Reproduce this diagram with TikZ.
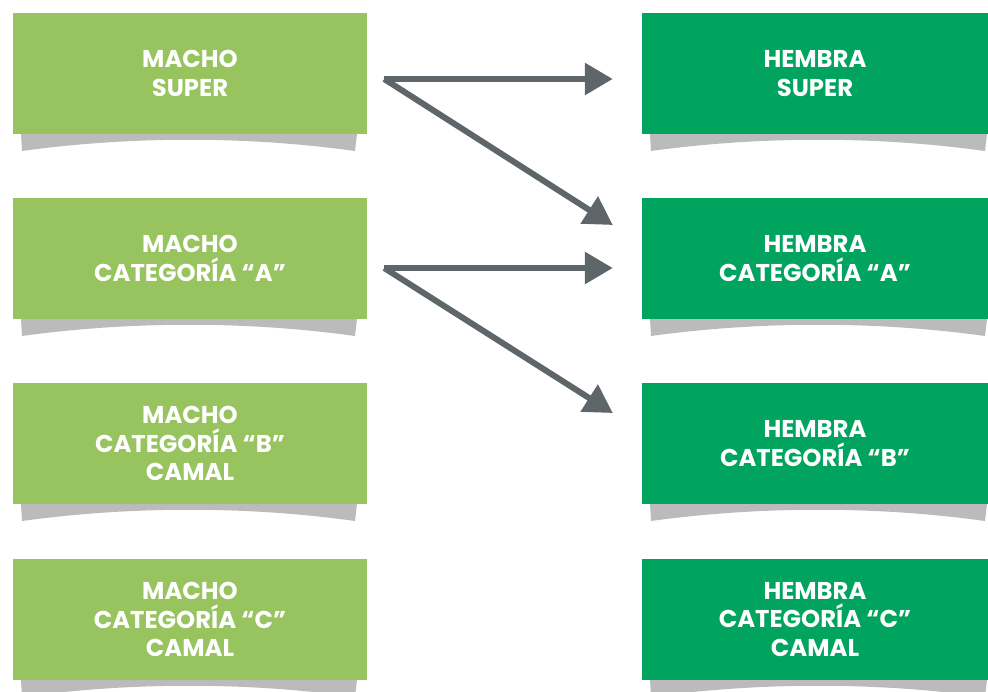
\documentclass[tikz,border=0pt]{standalone}
\usepackage{fontspec}
\setmainfont{Poppins}
\usetikzlibrary{arrows.meta,calc}
\definecolor{machogreen}{HTML}{97C45F}
\definecolor{hembragreen}{HTML}{00A45E}
\definecolor{shadowgray}{HTML}{BBBBBB}
\definecolor{arrowgray}{HTML}{5F666A}
\tikzset{
  box/.style={minimum height=121pt, inner sep=0pt,
    text=white, align=center, font=\fontsize{24.3}{28.5}\selectfont\bfseries},
  macho/.style={box, minimum width=354pt, fill=machogreen},
  hembra/.style={box, minimum width=346pt, fill=hembragreen},
  flow/.style={draw=arrowgray, line width=6pt, -{Triangle[length=28pt,width=31pt]}}
}
\begin{document}
\begin{tikzpicture}[x=1pt,y=-1pt]
  \useasboundingbox (0,0) rectangle (988,691);
  % shadows under the boxes
  \foreach \xa/\xb in {21/357,650/987}
    \foreach \yb in {134,319,504,680}
      \fill[shadowgray] (\xa,\yb) -- (\xb,\yb) -- (\xb-2,\yb+17)
        .. controls (\xb-110,\yb+2) and (\xa+110,\yb+2) .. (\xa+1,\yb+17) -- cycle;
  % left column
  \node[macho] (m1) at (190,73.5) {MACHO\\SUPER};
  \node[macho] (m2) at (190,258.5) {MACHO\\CATEGORÍA “A”};
  \node[macho] (m3) at (190,443.5) {MACHO\\CATEGORÍA “B”\\CAMAL};
  \node[macho] (m4) at (190,619.5) {MACHO\\CATEGORÍA “C”\\CAMAL};
  % right column
  \node[hembra] (h1) at (815,73.5) {HEMBRA\\SUPER};
  \node[hembra] (h2) at (815,258.5) {HEMBRA\\CATEGORÍA “A”};
  \node[hembra] (h3) at (815,443.5) {HEMBRA\\CATEGORÍA “B”};
  \node[hembra] (h4) at (815,619.5) {HEMBRA\\CATEGORÍA “C”\\CAMAL};
  % arrows
  \coordinate (s1) at ($(m1.east)+(17,5.5)$);
  \coordinate (s2) at ($(m2.east)+(17,9.5)$);
  \draw[flow] (s1) -- ($(h1.west)+(-29,5.5)$);
  \draw[flow] (s1) -- ($(h2.west)+(-29,-33.5)$);
  \draw[flow] (s2) -- ($(h2.west)+(-29,9.5)$);
  \draw[flow] (s2) -- ($(h3.west)+(-29,-30.5)$);
\end{tikzpicture}
\end{document}
